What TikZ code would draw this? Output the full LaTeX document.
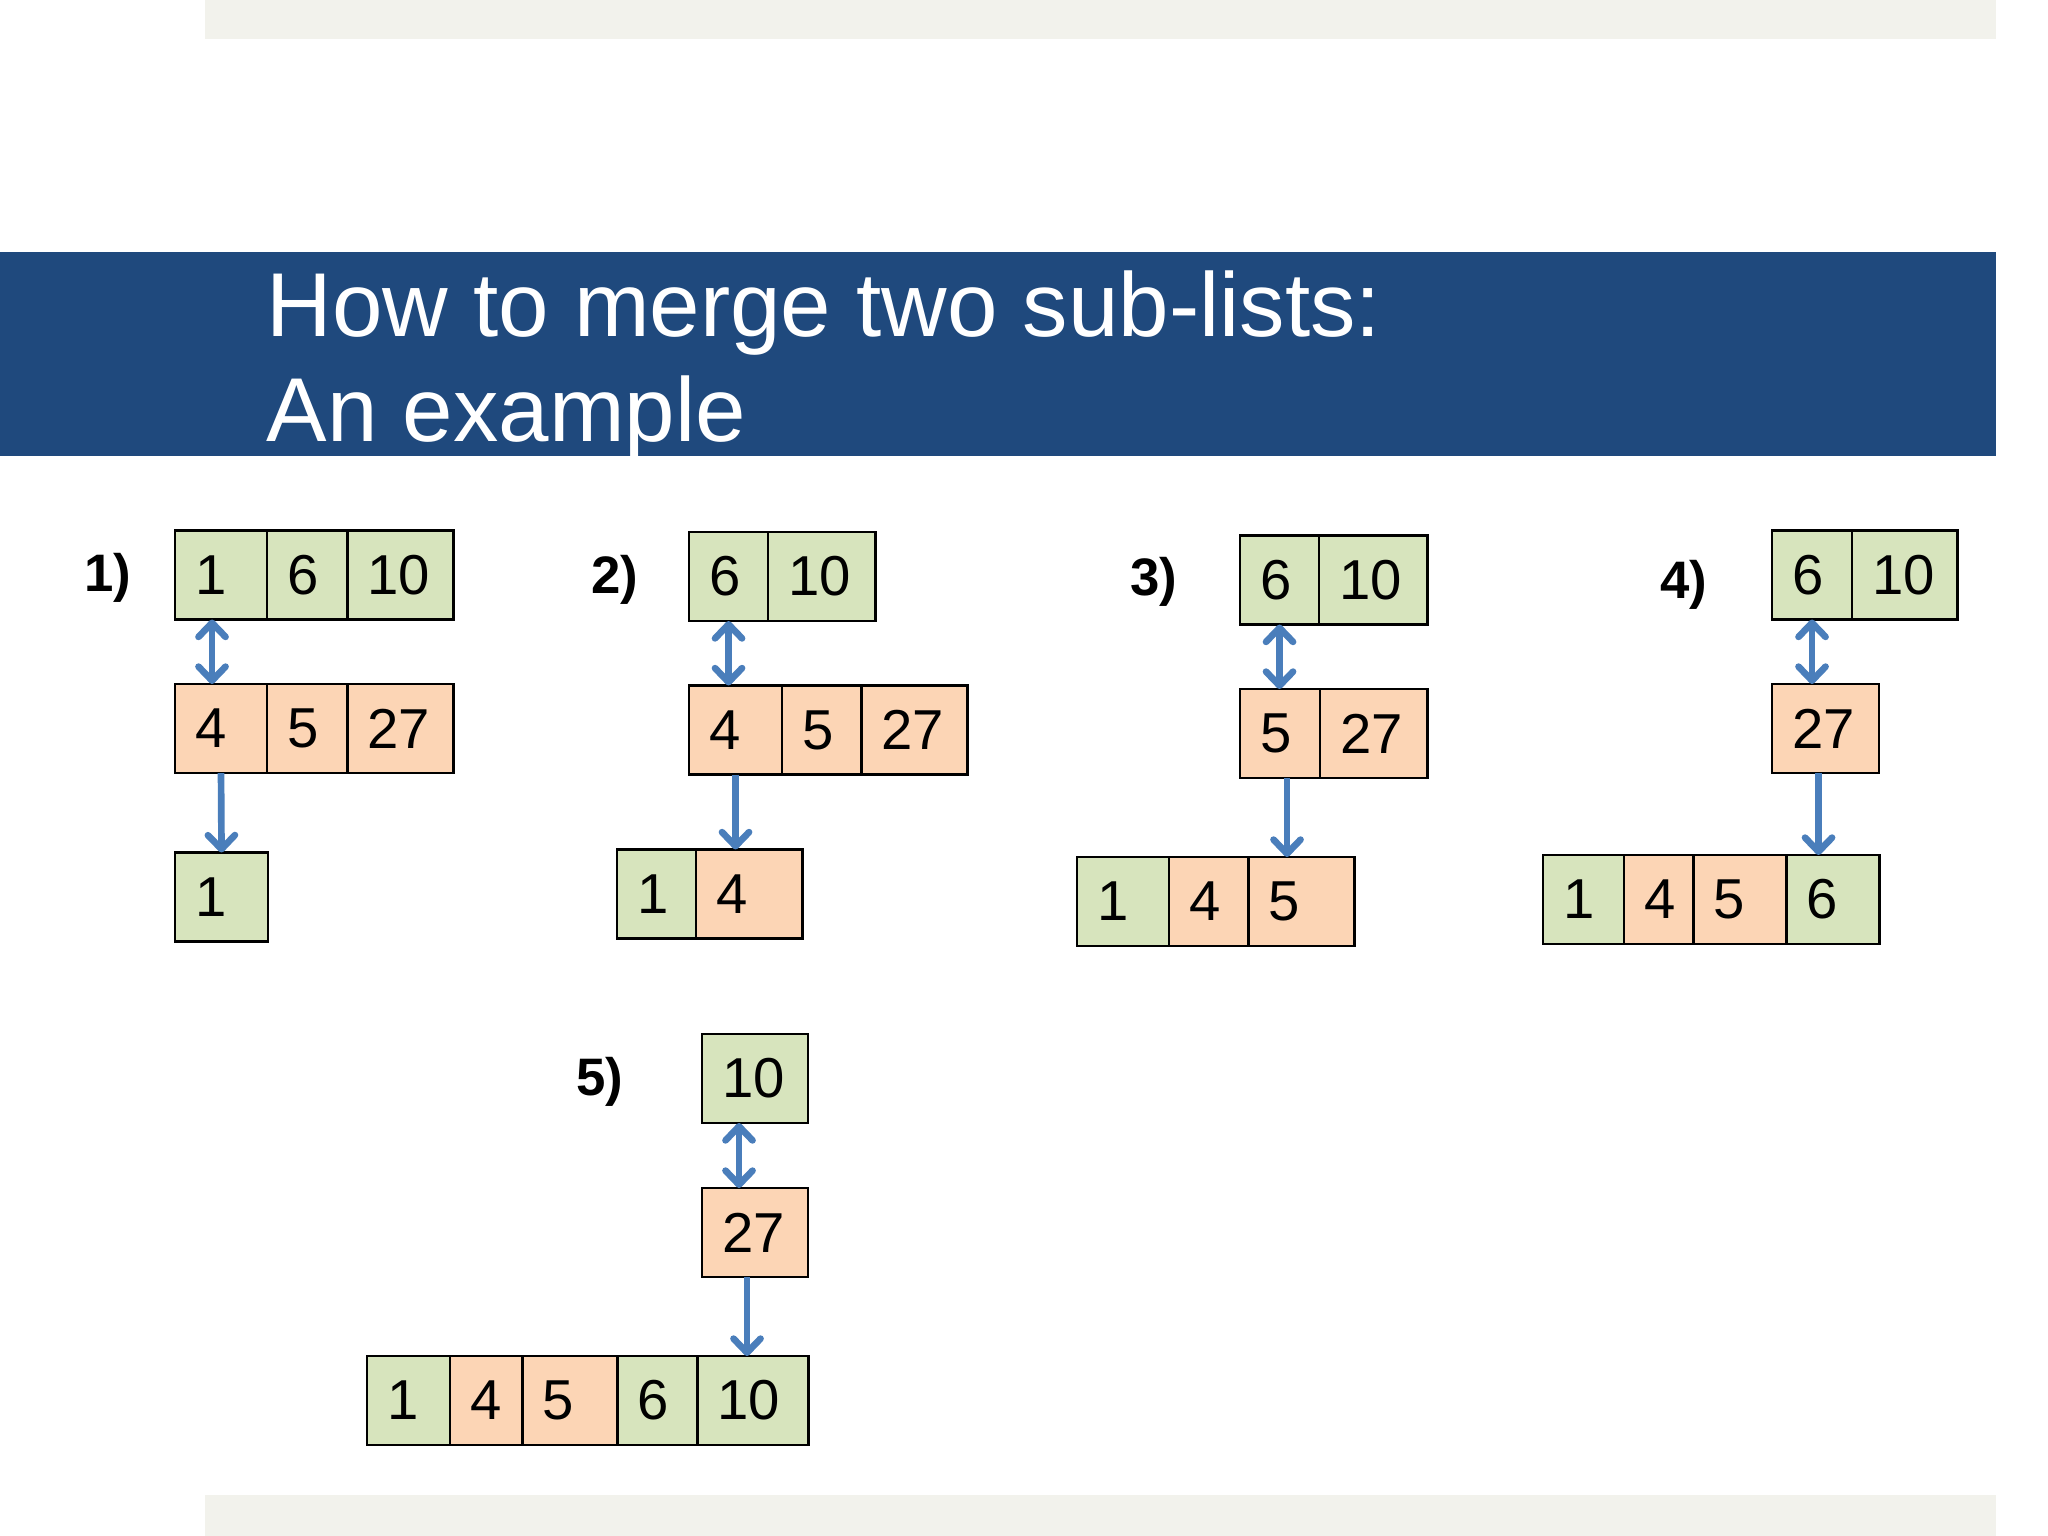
\documentclass[tikz,border=0pt]{standalone}
\usepackage{fontspec}
\setmainfont{Liberation Sans}
\usetikzlibrary{positioning,arrows.meta}
\definecolor{bandgray}{RGB}{242,242,236}
\definecolor{titleblue}{RGB}{31,73,125}
\definecolor{leftgreen}{RGB}{215,228,189}
\definecolor{rightorange}{RGB}{252,213,181}
\definecolor{moveblue}{RGB}{74,126,187}
\tikzset{
	cell/.style={draw, line width=0.8pt, outer sep=0pt, inner ysep=0pt, inner xsep=0.2cm, minimum height=0.89cm, align=left, font=\fontsize{16}{19}\selectfont},
	cellw/.style={minimum width=#1, /utils/exec={\pgfmathsetlengthmacro\celltext{#1-0.4cm}}, text width=\celltext},
	grn/.style={cell, fill=leftgreen, cellw=#1},
	org/.style={cell, fill=rightorange, cellw=#1},
	steplabel/.style={font=\fontsize{15}{18}\selectfont\bfseries},
	tip/.tip={Straight Barb[round, length=0.14cm, width=0.27cm]},
	take/.style={moveblue, line width=1.9pt, -tip},
	cmp/.style={moveblue, line width=1.9pt, tip-tip},
}
\begin{document}
\begin{tikzpicture}[x=0.01cm, y=-0.01cm]
	\useasboundingbox (0,0) rectangle (2048,1536);
	\fill[bandgray] (205,0) rectangle (1996,39);
	\fill[bandgray] (205,1495) rectangle (1996,1536);
	\fill[titleblue] (0,252) rectangle (1996,456);
	\node[anchor=base west, inner sep=0pt, text=white, font=\fontsize{25.8}{30}\selectfont] (title1) at (266,336) {How to merge two sub-lists:};
	\node[anchor=base west, inner sep=0pt, text=white, font=\fontsize{25.8}{30}\selectfont] (title2) at (266,441) {An example};

	\node[steplabel] (s1) at (108,578) {1)};
	\node[grn=0.92cm, anchor=west] (g1a) at (175,575) {1};
	\node[grn=0.80cm, right=0pt of g1a] (g1b) {6};
	\node[grn=1.06cm, right=0pt of g1b] (g1c) {10};
	\node[org=0.92cm, anchor=west] (o1a) at (175,728.5) {4};
	\node[org=0.80cm, right=0pt of o1a] (o1b) {5};
	\node[org=1.06cm, right=0pt of o1b] (o1c) {27};
	\node[grn=0.93cm, anchor=west] (m1a) at (175,897) {1};
	\draw[cmp] ([xshift=-0.09cm]g1a.south) -- ([xshift=-0.09cm]o1a.north);
	\draw[take] (o1a.south) -- (m1a.north);

	\node[steplabel] (s2) at (615,580) {2)};
	\node[grn=0.79cm, anchor=west] (g2a) at (689,576.5) {6};
	\node[grn=1.07cm, right=0pt of g2a] (g2b) {10};
	\node[org=0.93cm, anchor=west] (o2a) at (689,730) {4};
	\node[org=0.79cm, right=0pt of o2a] (o2b) {5};
	\node[org=1.06cm, right=0pt of o2b] (o2c) {27};
	\node[grn=0.79cm, anchor=west] (m2a) at (617,894) {1};
	\node[org=1.06cm, right=0pt of m2a] (m2b) {4};
	\draw[cmp] (g2a.south) -- (g2a.south |- o2a.north);
	\draw[take] (o2a.south) -- (o2a.south |- m2b.north);

	\node[steplabel] (s3) at (1154,582) {3)};
	\node[grn=0.79cm, anchor=west] (g3a) at (1240,580) {6};
	\node[grn=1.08cm, right=0pt of g3a] (g3b) {10};
	\node[org=0.80cm, anchor=west] (o3a) at (1240,733.5) {5};
	\node[org=1.07cm, right=0pt of o3a] (o3b) {27};
	\node[grn=0.92cm, anchor=west] (m3a) at (1077,901.5) {1};
	\node[org=0.79cm, right=0pt of m3a] (m3b) {4};
	\node[org=1.06cm, right=0pt of m3b] (m3c) {5};
	\draw[cmp] (g3a.south) -- (g3a.south |- o3a.north);
	\draw[take] ([xshift=0.07cm]o3a.south) -- ([xshift=0.07cm]o3a.south |- m3c.north);

	\node[steplabel] (s4) at (1684,585) {4)};
	\node[grn=0.80cm, anchor=west] (g4a) at (1772,575) {6};
	\node[grn=1.05cm, right=0pt of g4a] (g4b) {10};
	\node[org=1.07cm, anchor=west] (o4a) at (1772,728.5) {27};
	\node[grn=0.81cm, anchor=west] (m4a) at (1543,899.5) {1};
	\node[org=0.69cm, right=0pt of m4a] (m4b) {4};
	\node[org=0.93cm, right=0pt of m4b] (m4c) {5};
	\node[grn=0.93cm, right=0pt of m4c] (m4d) {6};
	\draw[cmp] (g4a.south) -- (g4a.south |- o4a.north);
	\draw[take] ([xshift=-0.07cm]o4a.south) -- ([xshift=-0.07cm]o4a.south |- m4d.north);

	\node[steplabel] (s5) at (600,1082) {5)};
	\node[grn=1.06cm, anchor=west] (g5a) at (702,1078.5) {10};
	\node[org=1.06cm, anchor=west] (o5a) at (702,1232.5) {27};
	\node[grn=0.83cm, anchor=west] (m5a) at (367,1400.5) {1};
	\node[org=0.72cm, right=0pt of m5a] (m5b) {4};
	\node[org=0.95cm, right=0pt of m5b] (m5c) {5};
	\node[grn=0.80cm, right=0pt of m5c] (m5d) {6};
	\node[grn=1.11cm, right=0pt of m5d] (m5e) {10};
	\draw[cmp] ([xshift=-0.16cm]g5a.south) -- ([xshift=-0.16cm]o5a.north);
	\draw[take] ([xshift=-0.08cm]o5a.south) -- ([xshift=-0.08cm]o5a.south |- m5e.north);
\end{tikzpicture}
\end{document}
